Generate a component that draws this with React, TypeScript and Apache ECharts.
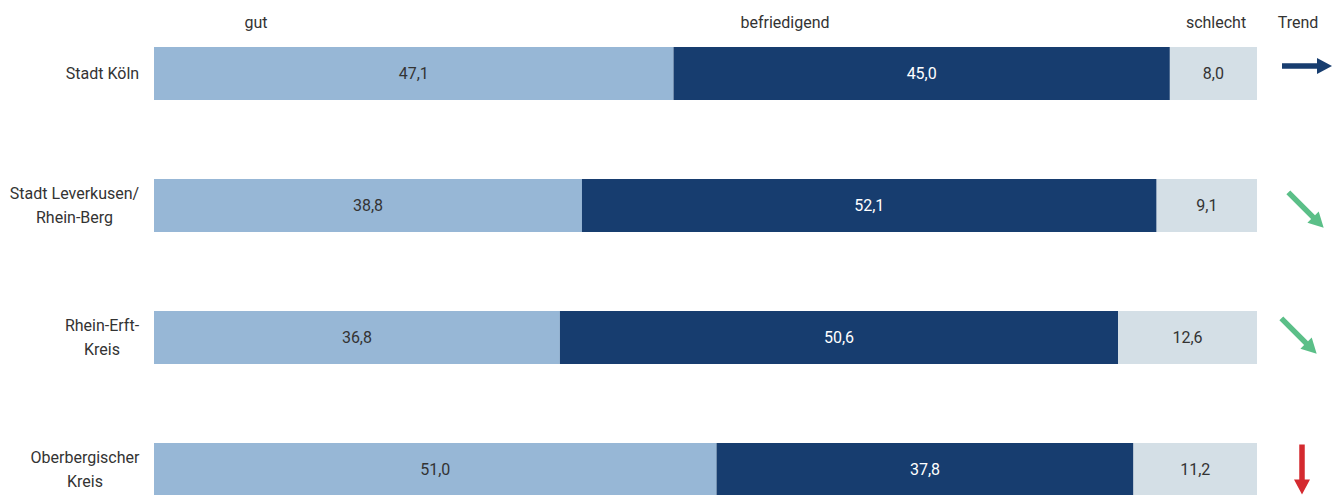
import React, { useEffect, useRef } from "react";
import * as echarts from "echarts";

const categories = ["Stadt Köln", "Stadt Leverkusen/\nRhein-Berg", "Rhein-Erft-\nKreis", "Oberbergischer\nKreis"];
const gut = [47.1, 38.8, 36.8, 51.0];
const befriedigend = [45.0, 52.1, 50.6, 37.8];
const schlecht = [8.0, 9.1, 12.6, 11.2];
const headers = ["gut", "befriedigend", "schlecht", "Trend"];
const trends = ["gleich", "fallend", "fallend", "stark fallend"];

const FONT = 'Roboto, "DejaVu Sans Condensed", sans-serif';
const FS = 16;
const TEXT = "#333333";
const C_GUT = "#97B7D6";
const C_BEF = "#173D6F";
const C_SCH = "#D4DFE6";

const headerX = [256, 785, 1216, 1298];
const trendStyle: Record<string, { angle: number; color: string }> = {
  gleich: { angle: 0, color: "#173D6F" },
  fallend: { angle: 45, color: "#5BBF88" },
  "stark fallend": { angle: 90, color: "#D42A2F" },
};
const trendOffsets = [[3, -7.5], [2, 4.5], [-5, -1.5], [-2, 0]];

function measure(text: string): number {
  const c = document.createElement("canvas").getContext("2d");
  if (!c) return text.length * 9;
  c.font = `${FS}px ${FONT}`;
  return c.measureText(text).width;
}

const fmt = (v: number) => v.toFixed(1).replace(".", ",");

export default function App() {
  const ref = useRef<HTMLDivElement>(null);
  useEffect(() => {
    document.body.style.margin = "0";
    if (!ref.current) return;
    const chart = echarts.init(ref.current, null, { renderer: "svg" });
    const rich: Record<string, any> = {};
    categories.forEach((c, i) => {
      const w = Math.max(...c.split("\n").map(measure));
      rich["c" + i] = { width: Math.ceil(w) + 1, align: "center", fontSize: FS, fontFamily: FONT, color: TEXT, lineHeight: 24 };
    });
    const barLabel = (color: string) => ({
      show: true,
      position: "inside",
      color,
      fontSize: FS,
      fontFamily: FONT,
      formatter: (p: any) => fmt(p.value),
    });
    chart.setOption({
      animation: false,
      grid: { left: 154, right: 84, top: 7.5, height: 528, containLabel: false, outerBoundsMode: "none" },
      xAxis: { type: "value", min: 0, max: 100, show: false },
      yAxis: {
        type: "category",
        inverse: true,
        data: categories,
        axisLine: { show: false },
        axisTick: { show: false },
        splitLine: { show: false },
        axisLabel: {
          align: "right",
          margin: 14,
          formatter: (v: string, idx: number) => v.split("\n").map((l) => `{c${idx}|${l}}`).join("\n"),
          rich,
        },
      },
      graphic: headers.map((h, i) => ({
        type: "text",
        x: headerX[i],
        y: 22,
        style: { text: h, fill: TEXT, font: `${FS}px ${FONT}`, align: "center", verticalAlign: "middle" },
      })),
      series: [
        { type: "bar", stack: "s", barWidth: 53, data: gut, itemStyle: { color: C_GUT }, label: barLabel(TEXT) },
        { type: "bar", stack: "s", barWidth: 53, data: befriedigend, itemStyle: { color: C_BEF }, label: barLabel("#ffffff") },
        { type: "bar", stack: "s", barWidth: 53, data: schlecht, itemStyle: { color: C_SCH }, label: barLabel(TEXT) },
        {
          type: "custom",
          clip: false,
          data: trends.map((t, i) => [0, i]),
          encode: { x: 0, y: 1 },
          renderItem: (params: any, api: any) => {
            const idx = params.dataIndex;
            const st = trendStyle[trends[idx]];
            const cy = api.coord([0, api.value(1)])[1];
            const cx = 1304 + trendOffsets[idx][0];
            const L = 50, hl = 15, hw = 8, sw = 2.75;
            const pts = [
              [-L / 2, -sw], [L / 2 - hl, -sw], [L / 2 - hl, -hw], [L / 2, 0],
              [L / 2 - hl, hw], [L / 2 - hl, sw], [-L / 2, sw],
            ];
            return {
              type: "group",
              x: cx,
              y: cy + trendOffsets[idx][1],
              rotation: (-st.angle * Math.PI) / 180,
              children: [{ type: "polygon", shape: { points: pts }, style: { fill: st.color } }],
            };
          },
        },
      ],
    });
    return () => chart.dispose();
  }, []);
  return (
    <div style={{ width: 1341, height: 495, overflow: "hidden", position: "relative" }}>
      <div ref={ref} style={{ width: 1341, height: 540 }} />
    </div>
  );
}
